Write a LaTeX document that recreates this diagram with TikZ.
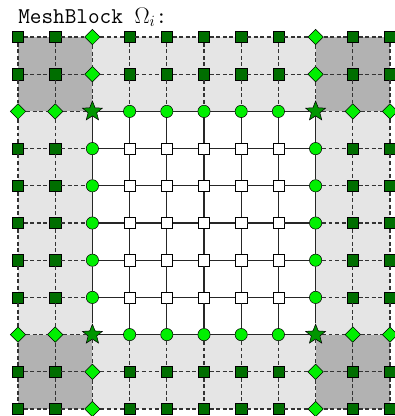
\documentclass[tikz,border=0pt]{standalone}
\usetikzlibrary{shapes.geometric}

\definecolor{darkgreen}{RGB}{0,110,0}
\definecolor{stargreen}{RGB}{0,150,0}
\definecolor{lightgreen}{RGB}{0,240,0}

\tikzset{
    ghost/.style={rectangle, draw=black, fill=darkgreen, minimum size=0.3cm, inner sep=0pt},
    cell/.style={rectangle, draw=black, fill=white, minimum size=0.3cm, inner sep=0pt},
    face/.style={circle, draw=black, fill=lightgreen, minimum size=0.33cm, inner sep=0pt},
    shared/.style={diamond, draw=black, fill=lightgreen, minimum size=0.42cm, inner sep=0pt},
    corner/.style={star, star points=5, star point ratio=2.3, draw=black, fill=stargreen, minimum size=0.56cm, inner sep=0pt},
    inneredge/.style={black!85, line width=0.8pt},
    ghostedge/.style={black!80, line width=0.8pt, dash pattern=on 3pt off 2pt}
}

\begin{document}
\begin{tikzpicture}
                \useasboundingbox (-0.484,0.995) rectangle (10.108,-10.188);

                \node[anchor=base west, inner sep=0pt, font=\LARGE\ttfamily] (title) at (0,0.37) {MeshBlock $\Omega_i$:};

                % ghost zones and the block itself
                \fill[black!10] (0,0) rectangle (10,-10);
                \fill[black!30] (0,0) rectangle (2,-2);
                \fill[black!30] (8,0) rectangle (10,-2);
                \fill[black!30] (0,-8) rectangle (2,-10);
                \fill[black!30] (8,-8) rectangle (10,-10);
                \fill[white] (2,-2) rectangle (8,-8);

                % points
                \foreach \i in {0,...,10} {
                    \foreach \j in {0,...,10} {
                        \pgfmathtruncatemacro\inI{and(\i>1,\i<9)}
                        \pgfmathtruncatemacro\inJ{and(\j>1,\j<9)}
                        \pgfmathtruncatemacro\edI{or(\i==2,\i==8)}
                        \pgfmathtruncatemacro\edJ{or(\j==2,\j==8)}
                        \pgfmathtruncatemacro\kind{and(\inI,\inJ) ? (\edI+\edJ) : (or(\edI,\edJ) ? 3 : 4)}
                        \ifcase\kind \def\kstyle{cell}\or \def\kstyle{face}\or \def\kstyle{corner}\or \def\kstyle{shared}\or \def\kstyle{ghost}\fi
                        \node[\kstyle] (n-\i-\j) at (\i,-\j) {};
                    }
                }

                % horizontal links
                \foreach \i in {0,...,9} {
                    \foreach \j in {0,...,10} {
                        \pgfmathtruncatemacro\ni{\i+1}
                        \pgfmathtruncatemacro\solid{and(and(\i>1,\i<8),and(\j>1,\j<9))}
                        \ifnum\solid=1
                            \draw[inneredge] (n-\i-\j) -- (n-\ni-\j);
                        \else
                            \draw[ghostedge] (n-\i-\j) -- (n-\ni-\j);
                        \fi
                    }
                }

                % vertical links
                \foreach \i in {0,...,10} {
                    \foreach \j in {0,...,9} {
                        \pgfmathtruncatemacro\nj{\j+1}
                        \pgfmathtruncatemacro\solid{and(and(\j>1,\j<8),and(\i>1,\i<9))}
                        \ifnum\solid=1
                            \draw[inneredge] (n-\i-\j) -- (n-\i-\nj);
                        \else
                            \draw[ghostedge] (n-\i-\j) -- (n-\i-\nj);
                        \fi
                    }
                }
\end{tikzpicture}
\end{document}
